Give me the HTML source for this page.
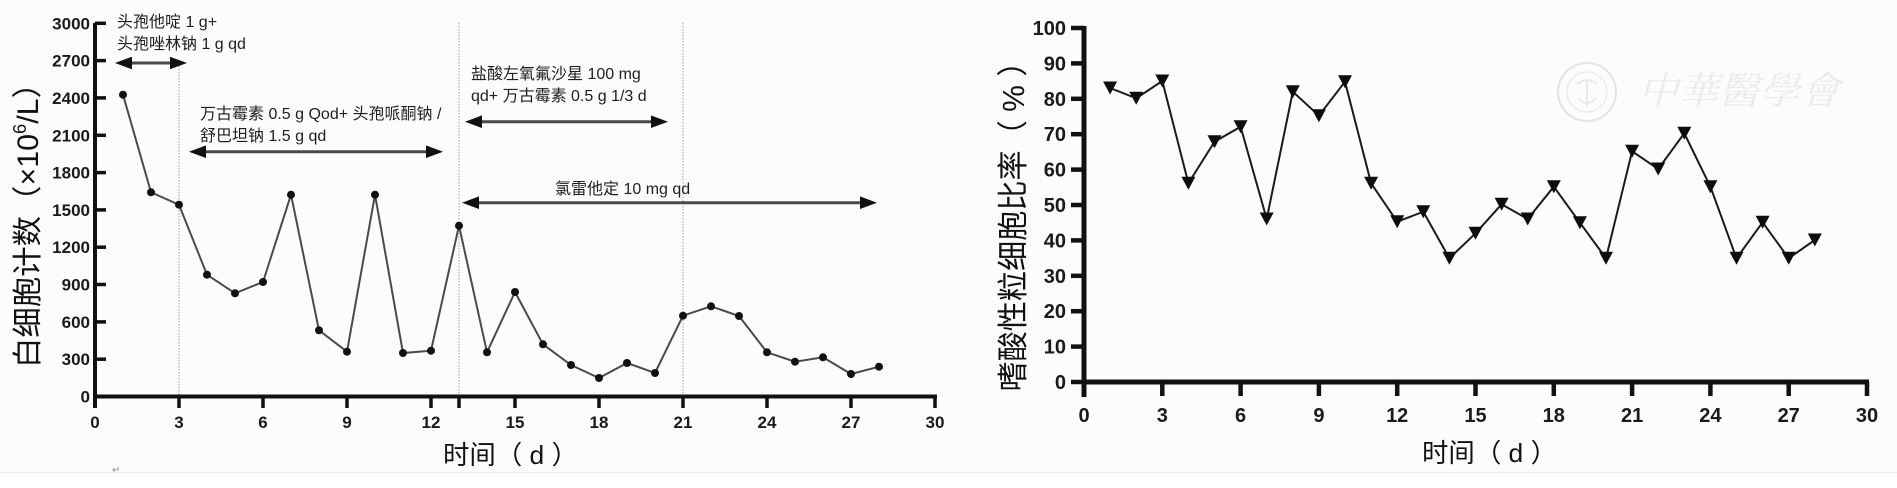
<!DOCTYPE html>
<html>
<head>
<meta charset="utf-8">
<style>
  html, body { margin: 0; padding: 0; background: #fcfcfc; }
  svg { display: block; }
  .tk { font-family: "Liberation Sans", Arial, sans-serif; font-weight: bold; fill: #1a1a1a; }
  .an { font-family: "Liberation Sans", "Noto Sans CJK SC", sans-serif; font-size: 16px; fill: #1e1e1e; }
  .ti { font-family: "Liberation Sans", "Noto Sans CJK SC", sans-serif; fill: #111; }
</style>
</head>
<body>
<svg width="1897" height="488" viewBox="0 0 1897 488" xmlns="http://www.w3.org/2000/svg">
  <rect x="0" y="0" width="1897" height="472" fill="#fcfcfc"/>
  <rect x="0" y="472" width="1897" height="16" fill="#ffffff"/>
  <line x1="0" y1="472.5" x2="1897" y2="472.5" stroke="#eeeeee" stroke-width="1"/>

  <!-- ================= LEFT CHART ================= -->
  <g stroke="#b5b5b5" stroke-width="1.3" stroke-dasharray="1.5 1.5">
    <line x1="179" y1="66" x2="179" y2="396"/>
    <line x1="459" y1="23" x2="459" y2="396"/>
    <line x1="683" y1="23" x2="683" y2="396"/>
  </g>

  <g stroke="#111" stroke-width="4" fill="none">
    <line x1="95" y1="23" x2="95" y2="408"/>
    <line x1="93" y1="396.5" x2="937" y2="396.5"/>
  </g>
  <g stroke="#111" stroke-width="3.5">
    <line x1="95" y1="23.3" x2="106" y2="23.3"/>
    <line x1="95" y1="60.6" x2="106" y2="60.6"/>
    <line x1="95" y1="97.9" x2="106" y2="97.9"/>
    <line x1="95" y1="135.3" x2="106" y2="135.3"/>
    <line x1="95" y1="172.6" x2="106" y2="172.6"/>
    <line x1="95" y1="209.9" x2="106" y2="209.9"/>
    <line x1="95" y1="247.2" x2="106" y2="247.2"/>
    <line x1="95" y1="284.5" x2="106" y2="284.5"/>
    <line x1="95" y1="321.9" x2="106" y2="321.9"/>
    <line x1="95" y1="359.2" x2="106" y2="359.2"/>
  </g>
  <g stroke="#111" stroke-width="3.5">
    <line x1="179" y1="396" x2="179" y2="408"/>
    <line x1="263" y1="396" x2="263" y2="408"/>
    <line x1="347" y1="396" x2="347" y2="408"/>
    <line x1="431" y1="396" x2="431" y2="408"/>
    <line x1="459" y1="396" x2="459" y2="408"/>
    <line x1="515" y1="396" x2="515" y2="408"/>
    <line x1="599" y1="396" x2="599" y2="408"/>
    <line x1="683" y1="396" x2="683" y2="408"/>
    <line x1="767" y1="396" x2="767" y2="408"/>
    <line x1="851" y1="396" x2="851" y2="408"/>
    <line x1="935" y1="396" x2="935" y2="408"/>
  </g>
  <g class="tk" font-size="17" text-anchor="end">
    <text x="90" y="29.3">3000</text>
    <text x="90" y="66.6">2700</text>
    <text x="90" y="103.9">2400</text>
    <text x="90" y="141.3">2100</text>
    <text x="90" y="178.6">1800</text>
    <text x="90" y="215.9">1500</text>
    <text x="90" y="253.2">1200</text>
    <text x="90" y="290.5">900</text>
    <text x="90" y="327.9">600</text>
    <text x="90" y="365.2">300</text>
    <text x="90" y="402.5">0</text>
  </g>
  <g class="tk" font-size="17" text-anchor="middle">
    <text x="95" y="428">0</text>
    <text x="179" y="428">3</text>
    <text x="263" y="428">6</text>
    <text x="347" y="428">9</text>
    <text x="431" y="428">12</text>
    <text x="515" y="428">15</text>
    <text x="599" y="428">18</text>
    <text x="683" y="428">21</text>
    <text x="767" y="428">24</text>
    <text x="851" y="428">27</text>
    <text x="935" y="428">30</text>
  </g>

  <text class="ti" x="443" y="464" font-size="26" textLength="135" lengthAdjust="spacingAndGlyphs">时间（ d ）</text>
  <text class="ti" transform="translate(38,218) rotate(-90)" x="0" y="0" font-size="30" text-anchor="middle" textLength="300" lengthAdjust="spacingAndGlyphs">白细胞计数（×10<tspan font-size="18" dy="-12">6</tspan><tspan dy="12">/L）</tspan></text>

  <text class="an" x="117" y="27">头孢他啶 1 g+</text>
  <text class="an" x="117" y="49">头孢唑林钠 1 g qd</text>
  <text class="an" x="200" y="119">万古霉素 0.5 g Qod+ 头孢哌酮钠 /</text>
  <text class="an" x="200" y="141">舒巴坦钠 1.5 g qd</text>
  <text class="an" x="471" y="79">盐酸左氧氟沙星 100 mg</text>
  <text class="an" x="471" y="101">qd+ 万古霉素 0.5 g 1/3 d</text>
  <text class="an" x="555" y="194">氯雷他定 10 mg qd</text>

  <g stroke="#4a4a4a" stroke-width="3">
    <line x1="128" y1="63" x2="174" y2="63"/>
    <line x1="202" y1="151.7" x2="430" y2="151.7"/>
    <line x1="478" y1="121.7" x2="655" y2="121.7"/>
    <line x1="475" y1="202.7" x2="864" y2="202.7"/>
  </g>
  <g fill="#111">
    <polygon points="115,63 132,56.7 132,69.3"/>
    <polygon points="187,63 170,56.7 170,69.3"/>
    <polygon points="189,151.7 206,145.4 206,158"/>
    <polygon points="443,151.7 426,145.4 426,158"/>
    <polygon points="465,121.7 482,115.4 482,128"/>
    <polygon points="668,121.7 651,115.4 651,128"/>
    <polygon points="462,202.7 479,196.4 479,209"/>
    <polygon points="877,202.7 860,196.4 860,209"/>
  </g>

  <polyline fill="none" stroke="#4a4a4a" stroke-width="2"
    points="123,94.7 151,192.3 179,204.7 207,274.7 235,293.3 263,282 291,194.7 319,330.3 347,351.7 375,194.7 403,353 431,350.7 459,225.7 487,352.3 515,292 543,344.3 571,365 599,378 627,363 655,373 683,315.7 711,306.3 739,316 767,352.3 795,361.7 823,357.3 851,374 879,366.7"/>
  <g fill="#111">
    <circle cx="123" cy="94.7" r="4"/>
    <circle cx="151" cy="192.3" r="4"/>
    <circle cx="179" cy="204.7" r="4"/>
    <circle cx="207" cy="274.7" r="4"/>
    <circle cx="235" cy="293.3" r="4"/>
    <circle cx="263" cy="282" r="4"/>
    <circle cx="291" cy="194.7" r="4"/>
    <circle cx="319" cy="330.3" r="4"/>
    <circle cx="347" cy="351.7" r="4"/>
    <circle cx="375" cy="194.7" r="4"/>
    <circle cx="403" cy="353" r="4"/>
    <circle cx="431" cy="350.7" r="4"/>
    <circle cx="459" cy="225.7" r="4"/>
    <circle cx="487" cy="352.3" r="4"/>
    <circle cx="515" cy="292" r="4"/>
    <circle cx="543" cy="344.3" r="4"/>
    <circle cx="571" cy="365" r="4"/>
    <circle cx="599" cy="378" r="4"/>
    <circle cx="627" cy="363" r="4"/>
    <circle cx="655" cy="373" r="4"/>
    <circle cx="683" cy="315.7" r="4"/>
    <circle cx="711" cy="306.3" r="4"/>
    <circle cx="739" cy="316" r="4"/>
    <circle cx="767" cy="352.3" r="4"/>
    <circle cx="795" cy="361.7" r="4"/>
    <circle cx="823" cy="357.3" r="4"/>
    <circle cx="851" cy="374" r="4"/>
    <circle cx="879" cy="366.7" r="4"/>
  </g>

  <text x="112" y="473" font-family="DejaVu Sans, sans-serif" font-size="10" fill="#888">↵</text>

  <!-- ================= RIGHT CHART ================= -->
  <g>
    <circle cx="1587" cy="92" r="29" fill="none" stroke="#e4e4e4" stroke-width="2"/>
    <circle cx="1587" cy="92" r="20" fill="none" stroke="#ececec" stroke-width="1.5"/>
    <path d="M1577,84 Q1587,76 1597,84 M1587,80 L1587,106 M1578,98 Q1587,108 1596,98" fill="none" stroke="#e8e8e8" stroke-width="2"/>
    <text x="1638" y="104" font-family="Noto Serif CJK SC, Noto Serif CJK TC, serif" font-size="38" font-style="italic" fill="#ebebeb" textLength="202" lengthAdjust="spacingAndGlyphs">中華醫學會</text>
  </g>

  <g stroke="#111" stroke-width="5" fill="none">
    <line x1="1084" y1="26" x2="1084" y2="397"/>
    <line x1="1082" y1="382" x2="1869" y2="382"/>
  </g>
  <g stroke="#111" stroke-width="4.5">
    <line x1="1071" y1="28" x2="1084" y2="28"/>
    <line x1="1071" y1="63.4" x2="1084" y2="63.4"/>
    <line x1="1071" y1="98.8" x2="1084" y2="98.8"/>
    <line x1="1071" y1="134.2" x2="1084" y2="134.2"/>
    <line x1="1071" y1="169.6" x2="1084" y2="169.6"/>
    <line x1="1071" y1="205" x2="1084" y2="205"/>
    <line x1="1071" y1="240.4" x2="1084" y2="240.4"/>
    <line x1="1071" y1="275.8" x2="1084" y2="275.8"/>
    <line x1="1071" y1="311.2" x2="1084" y2="311.2"/>
    <line x1="1071" y1="346.6" x2="1084" y2="346.6"/>
    <line x1="1071" y1="382" x2="1084" y2="382"/>
  </g>
  <g stroke="#111" stroke-width="4.5">
    <line x1="1162.3" y1="382" x2="1162.3" y2="396"/>
    <line x1="1240.6" y1="382" x2="1240.6" y2="396"/>
    <line x1="1318.9" y1="382" x2="1318.9" y2="396"/>
    <line x1="1397.2" y1="382" x2="1397.2" y2="396"/>
    <line x1="1475.5" y1="382" x2="1475.5" y2="396"/>
    <line x1="1553.8" y1="382" x2="1553.8" y2="396"/>
    <line x1="1632.1" y1="382" x2="1632.1" y2="396"/>
    <line x1="1710.4" y1="382" x2="1710.4" y2="396"/>
    <line x1="1788.7" y1="382" x2="1788.7" y2="396"/>
    <line x1="1867" y1="382" x2="1867" y2="396"/>
  </g>
  <g class="tk" font-size="20" text-anchor="end">
    <text x="1066" y="35">100</text>
    <text x="1066" y="70.4">90</text>
    <text x="1066" y="105.8">80</text>
    <text x="1066" y="141.2">70</text>
    <text x="1066" y="176.6">60</text>
    <text x="1066" y="212">50</text>
    <text x="1066" y="247.4">40</text>
    <text x="1066" y="282.8">30</text>
    <text x="1066" y="318.2">20</text>
    <text x="1066" y="353.6">10</text>
    <text x="1066" y="389">0</text>
  </g>
  <g class="tk" font-size="20" text-anchor="middle">
    <text x="1084" y="422">0</text>
    <text x="1162.3" y="422">3</text>
    <text x="1240.6" y="422">6</text>
    <text x="1318.9" y="422">9</text>
    <text x="1397.2" y="422">12</text>
    <text x="1475.5" y="422">15</text>
    <text x="1553.8" y="422">18</text>
    <text x="1632.1" y="422">21</text>
    <text x="1710.4" y="422">24</text>
    <text x="1788.7" y="422">27</text>
    <text x="1867" y="422">30</text>
  </g>

  <text class="ti" x="1422" y="462" font-size="26" textLength="135" lengthAdjust="spacingAndGlyphs">时间（ d ）</text>
  <text class="ti" transform="translate(1024,219) rotate(-90)" x="0" y="0" font-size="31" text-anchor="middle" textLength="345" lengthAdjust="spacingAndGlyphs">嗜酸性粒细胞比率（ % ）</text>

  <polyline fill="none" stroke="#1a1a1a" stroke-width="2"
    points="1110.1,88 1136.2,98.3 1162.3,81 1188.4,183.3 1214.5,141.7 1240.6,126.7 1266.7,219 1292.8,91.7 1318.9,115.7 1345,81.7 1371.1,183.3 1397.2,221.7 1423.3,211.7 1449.4,258.3 1475.5,233.3 1501.6,204.3 1527.7,219 1553.8,186.7 1579.9,222.7 1606,258.3 1632.1,151.3 1658.2,169 1684.3,133.3 1710.4,186.7 1736.5,258.3 1762.6,222.3 1788.7,258.3 1814.8,240"/>
  <g fill="#0d0d0d">
    <polygon points="1103.1,81.5 1117.1,81.5 1110.1,94.5"/>
    <polygon points="1129.2,91.8 1143.2,91.8 1136.2,104.8"/>
    <polygon points="1155.3,74.5 1169.3,74.5 1162.3,87.5"/>
    <polygon points="1181.4,176.8 1195.4,176.8 1188.4,189.8"/>
    <polygon points="1207.5,135.2 1221.5,135.2 1214.5,148.2"/>
    <polygon points="1233.6,120.2 1247.6,120.2 1240.6,133.2"/>
    <polygon points="1259.7,212.5 1273.7,212.5 1266.7,225.5"/>
    <polygon points="1285.8,85.2 1299.8,85.2 1292.8,98.2"/>
    <polygon points="1311.9,109.2 1325.9,109.2 1318.9,122.2"/>
    <polygon points="1338,75.2 1352,75.2 1345,88.2"/>
    <polygon points="1364.1,176.8 1378.1,176.8 1371.1,189.8"/>
    <polygon points="1390.2,215.2 1404.2,215.2 1397.2,228.2"/>
    <polygon points="1416.3,205.2 1430.3,205.2 1423.3,218.2"/>
    <polygon points="1442.4,251.8 1456.4,251.8 1449.4,264.8"/>
    <polygon points="1468.5,226.8 1482.5,226.8 1475.5,239.8"/>
    <polygon points="1494.6,197.8 1508.6,197.8 1501.6,210.8"/>
    <polygon points="1520.7,212.5 1534.7,212.5 1527.7,225.5"/>
    <polygon points="1546.8,180.2 1560.8,180.2 1553.8,193.2"/>
    <polygon points="1572.9,216.2 1586.9,216.2 1579.9,229.2"/>
    <polygon points="1599,251.8 1613,251.8 1606,264.8"/>
    <polygon points="1625.1,144.8 1639.1,144.8 1632.1,157.8"/>
    <polygon points="1651.2,162.5 1665.2,162.5 1658.2,175.5"/>
    <polygon points="1677.3,126.8 1691.3,126.8 1684.3,139.8"/>
    <polygon points="1703.4,180.2 1717.4,180.2 1710.4,193.2"/>
    <polygon points="1729.5,251.8 1743.5,251.8 1736.5,264.8"/>
    <polygon points="1755.6,215.8 1769.6,215.8 1762.6,228.8"/>
    <polygon points="1781.7,251.8 1795.7,251.8 1788.7,264.8"/>
    <polygon points="1807.8,233.5 1821.8,233.5 1814.8,246.5"/>
  </g>
</svg>
</body>
</html>
